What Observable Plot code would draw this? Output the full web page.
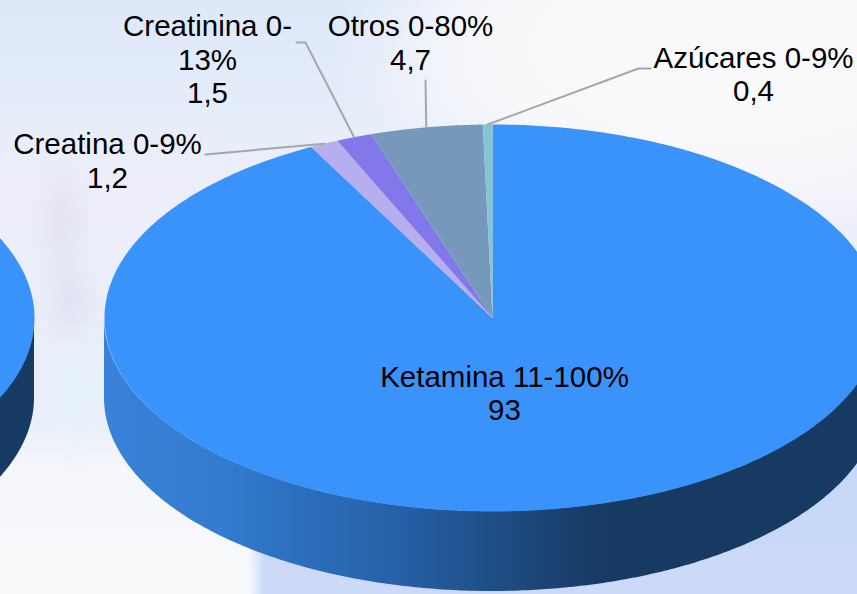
<!DOCTYPE html>
<html>
<head>
<meta charset="utf-8">
<script src="https://cdn.jsdelivr.net/npm/d3@7"></script>
<script src="https://cdn.jsdelivr.net/npm/@observablehq/plot@0.6"></script>
<style>
html,body{margin:0;padding:0;width:857px;height:594px;overflow:hidden}
body{background:
 linear-gradient(90deg,#ccd9f700 248px,#ccd9f7 264px) bottom/100% 50px no-repeat,
 radial-gradient(ellipse 330px 240px at 857px 594px,#c6d7f8 0%,#c8d8f8 70%,#c8d8f800 100%),
 radial-gradient(ellipse 400px 190px at 730px 50px,#fafafc 0%,#f8f8fb 60%,#f8f8fb00 100%),
 radial-gradient(ellipse 36px 70px at 62px 220px,#e3e3f2 0%,#e3e3f200 100%),
 radial-gradient(ellipse 34px 50px at 70px 300px,#e1e3f2 0%,#e1e3f200 100%),
 radial-gradient(ellipse 30px 90px at 78px 390px,#e6f2fb 0%,#e6f2fb00 100%),
 linear-gradient(180deg,#dde8f9 0,#e6edf9 120px,#eeeefb 190px,#e9eef9 340px,#e9eff8 420px,#f6f7fb 475px,#f9fafb 594px)}
svg{display:block}
</style>
</head>
<body>
<div id="chart"></div>
<script>
const names = ["Ketamina 11-100%","Creatina 0-9%","Creatinina 0-\n13%","Otros 0-80%","Azúcares 0-9%"];
const values = [93,1.2,1.5,4.7,0.4];
const valueLabels = ["93","1,2","1,5","4,7","0,4"];
const colors = ["#3a93fa","#b7aef0","#8378ea","#7699bb","#86c3d3"];

// layout (pixels)
const W=857,H=594,cx=492,cy=317.5,rx=388,ry=193.5,depth=80,leftCx=-354;
const ux=px=>(px-cx)/rx, uy=py=>(py-cy)/ry;
const depthU=depth/ry;

const angles=d3.pie().sort(null)(values);
const rim=(t,ox=0)=>({x:Math.sin(t)+ox,y:-Math.cos(t)});
const wedge=(a,i,ox=0)=>{
  const n=Math.max(2,Math.ceil((a.endAngle-a.startAngle)/0.01));
  const pts=[{x:ox,y:0,name:names[i]+ox,c:colors[i]}];
  for(let k=0;k<=n;k++){const t=a.startAngle+(a.endAngle-a.startAngle)*k/n;pts.push({...rim(t,ox),name:names[i]+ox,c:colors[i]});}
  return pts;
};
const slices=angles.flatMap((a,i)=>wedge(a,i));
const leftOffset=ux(leftCx);
const leftSlices=angles.flatMap((a,i)=>wedge(a,i,leftOffset));
const wall=(ox)=>d3.range(Math.PI/2,3*Math.PI/2+1e-6,0.01).map(t=>({...rim(t,ox)}));

// label placement
const labelBox=[[504,392.5],[107,160],[207,58.5],[410,42],[753,73.5]];
const elbows=[null,[[205,154],[205,154]],[[305,42],[296,42]],[[425,80],[425,80]],[[638,68],[650,68]]];
const mids=angles.map(a=>(a.startAngle+a.endAngle)/2);
const leaders=elbows.flatMap((e,i)=>e?[rim(mids[i]),...e.map(p=>({x:ux(p[0]),y:uy(p[1])}))].map(p=>({...p,i})):[]);
const labels=names.map((n,i)=>({text:n+"\n"+valueLabels[i],x:ux(labelBox[i][0]),y:uy(labelBox[i][1])}));

const chart=Plot.plot({
  width:W,height:H,margin:0,
  style:{background:"none",overflow:"hidden"},
  x:{domain:[ux(0),ux(W)],axis:null},
  y:{domain:[uy(0),uy(H)],range:[0,H],axis:null},
  marks:[
    ()=>{
      const s=d3.create("svg:defs");
      const g=s.append("linearGradient").attr("id","wallGrad").attr("x1",0).attr("x2",1).attr("y1",0).attr("y2",0);
      [[0,"#3a82da"],[0.15,"#337ccf"],[0.25,"#2c6fbd"],[0.38,"#2660a6"],[0.5,"#1f4e86"],[0.62,"#183c68"],[0.66,"#173a63"],[1,"#173a63"]]
        .forEach(([o,c])=>g.append("stop").attr("offset",o).attr("stop-color",c));
      return s.node();
    },
    Plot.areaY(wall(leftOffset),{x:"x",y1:"y",y2:d=>d.y+depthU,fill:"#173a63"}),
    Plot.areaY(wall(0),{x:"x",y1:"y",y2:d=>d.y+depthU,fill:"url(#wallGrad)"}),
    Plot.line(leftSlices,{x:"x",y:"y",z:"name",fill:"c",stroke:"none"}),
    Plot.line(slices,{x:"x",y:"y",z:"name",fill:"c",stroke:"none"}),
    Plot.line(leaders,{x:"x",y:"y",z:"i",stroke:"#a6a6a6",strokeWidth:2}),
    Plot.text(labels,{x:"x",y:"y",text:"text",fontSize:29.5,fontFamily:"Liberation Sans",fill:"#000",lineHeight:1.135,textAnchor:"middle"})
  ]
});
document.getElementById("chart").append(chart);
</script>
</body>
</html>
